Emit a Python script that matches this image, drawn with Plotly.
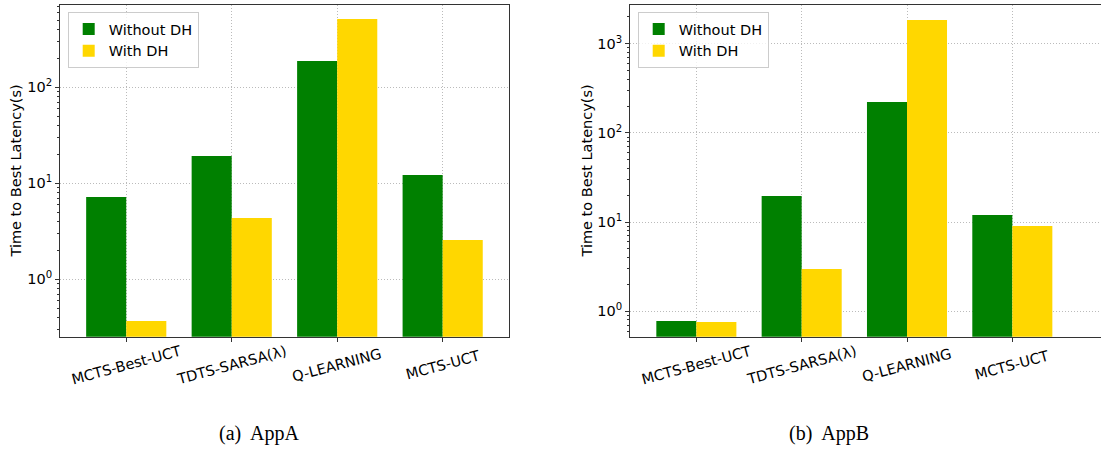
import plotly.graph_objects as go

categories = ["MCTS-Best-UCT", "TDTS-SARSA(λ)", "Q-LEARNING", "MCTS-UCT"]
appA_without = [7.2, 19.2, 188, 12.2]
appA_with = [0.368, 4.35, 514, 2.57]
appB_without = [0.778, 19.6, 222, 12.0]
appB_with = [0.76, 2.98, 1845, 9.04]
series_names = ["Without DH", "With DH"]
captions = ["(a)  AppA", "(b)  AppB"]
ytitle = "Time to Best Latency(s)"

GREEN = "#008000"
GOLD = "#FFD700"
FONT = "DejaVu Sans"
FS = 14.5
GRID = "#bbbbbb"
DASH = "1px,2px"

W, H = 1101, 449

fig = go.Figure()

fig.add_trace(go.Bar(x=categories, y=appA_without, name=series_names[0], marker_color=GREEN,
                     marker_line_width=0, xaxis="x", yaxis="y", legend="legend"))
fig.add_trace(go.Bar(x=categories, y=appA_with, name=series_names[1], marker_color=GOLD,
                     marker_line_width=0, xaxis="x", yaxis="y", legend="legend"))
fig.add_trace(go.Bar(x=categories, y=appB_without, name=series_names[0], marker_color=GREEN,
                     marker_line_width=0, xaxis="x2", yaxis="y2", legend="legend2"))
fig.add_trace(go.Bar(x=categories, y=appB_with, name=series_names[1], marker_color=GOLD,
                     marker_line_width=0, xaxis="x2", yaxis="y2", legend="legend2"))

ydom = [1 - 336.7 / H, 1 - 4.5 / H]

def minor_vals(lo, hi):
    vals = []
    d = 1e-3
    while d < 1e5:
        for m in range(2, 10):
            v = m * d
            if lo <= v <= hi:
                vals.append(v)
        d *= 10
    return vals

common_x = dict(
    type="category", showgrid=True, gridcolor=GRID, griddash=DASH, gridwidth=1,
    showline=True, linecolor="#333333", linewidth=1, mirror=True,
    ticks="outside", ticklen=4, tickcolor="#333333", showticklabels=False,
    zeroline=False,
)
common_y = dict(
    type="log", showgrid=True, gridcolor=GRID, griddash=DASH, gridwidth=1,
    showline=True, linecolor="#333333", linewidth=1,
    ticks="outside", ticklen=4, tickcolor="#333333",
    tickfont=dict(family=FONT, size=FS, color="black"),
    zeroline=False, automargin=False,
)

fig.update_layout(
    width=W, height=H,
    margin=dict(l=0, r=0, t=0, b=0),
    paper_bgcolor="white", plot_bgcolor="white",
    barmode="group", bargap=0.24, bargroupgap=0,
    xaxis=dict(common_x, domain=[60 / W, 508.7 / W], range=[-0.628, 3.626], anchor="y"),
    yaxis=dict(common_y, domain=ydom, range=[-0.598, 2.862], anchor="x", mirror=True,
               tickvals=[1, 10, 100], ticktext=["10<sup>0</sup>", "10<sup>1</sup>", "10<sup>2</sup>"],
               minor=dict(tickvals=minor_vals(0.252, 728), ticks="outside", ticklen=2,
                          tickcolor="#333333", showgrid=False)),
    xaxis2=dict(common_x, domain=[630 / W, 1.0], range=[-0.63, 3.842], anchor="y2"),
    yaxis2=dict(common_y, domain=ydom, range=[-0.285, 3.44], anchor="x2", mirror=False,
                tickvals=[1, 10, 100, 1000],
                ticktext=["10<sup>0</sup>", "10<sup>1</sup>", "10<sup>2</sup>", "10<sup>3</sup>"],
                minor=dict(tickvals=minor_vals(0.519, 2750), ticks="outside", ticklen=2,
                           tickcolor="#333333", showgrid=False)),
    legend=dict(x=67.7 / W, y=1 - 12 / H, xanchor="left", yanchor="top",
                bordercolor="#cccccc", borderwidth=1, bgcolor="rgba(255,255,255,0.8)",
                font=dict(family=FONT, size=FS, color="black"), itemwidth=30),
    legend2=dict(x=637.7 / W, y=1 - 12 / H, xanchor="left", yanchor="top",
                 bordercolor="#cccccc", borderwidth=1, bgcolor="rgba(255,255,255,0.8)",
                 font=dict(family=FONT, size=FS, color="black"), itemwidth=30),
    showlegend=True,
)

annotations = []
for xr, yr in (("x", "y domain"), ("x2", "y2 domain")):
    for c in categories:
        annotations.append(dict(
            x=c, xref=xr, y=-(365 - 336.7) / 332.2, yref=yr, text=c, showarrow=False,
            xanchor="center", yanchor="middle", textangle=-15,
            font=dict(family=FONT, size=FS, color="black"),
        ))

for xpos in (15, 586):
    annotations.append(dict(
        x=xpos / W, xref="paper", y=1 - 171.5 / H, yref="paper", text=ytitle,
        showarrow=False, textangle=-90, xanchor="center", yanchor="middle",
        font=dict(family=FONT, size=FS, color="black"),
    ))

for xpos, cap in zip((259, 829), captions):
    annotations.append(dict(
        x=xpos / W, xref="paper", y=1 - 433 / H, yref="paper", text=cap,
        showarrow=False, xanchor="center", yanchor="middle",
        font=dict(family="Liberation Serif", size=20, color="black"),
    ))

fig.update_layout(annotations=annotations)

fig.write_html("out.html", post_script="document.body.style.margin='0px';",
               config={"displayModeBar": False})
